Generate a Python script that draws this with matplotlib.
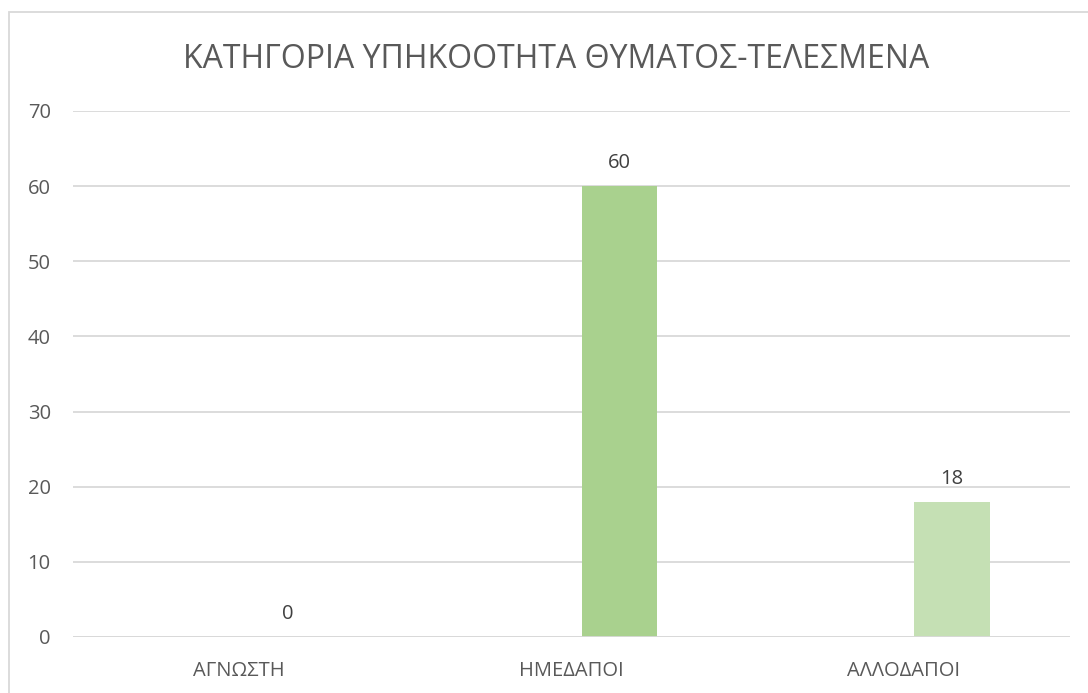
import matplotlib
matplotlib.use("Agg")
import matplotlib.pyplot as plt
from matplotlib.patches import Rectangle
import numpy as np

categories = ["ΑΓΝΩΣΤΗ", "ΗΜΕΔΑΠΟΙ", "ΑΛΛΟΔΑΠΟΙ"]
values = [0, 60, 18]
bar_colors = ["#a9d18e", "#a9d18e", "#c5e0b4"]
yticks = [0, 10, 20, 30, 40, 50, 60, 70]
title = "ΚΑΤΗΓΟΡΙΑ ΥΠΗΚΟΟΤΗΤΑ ΘΥΜΑΤΟΣ-ΤΕΛΕΣΜΕΝΑ"

plt.rcParams['font.family'] = ['Open Sans', 'DejaVu Sans']
text_color = "#595959"
grid_color = "#d9d9d9"

W, H = 1088, 693
fig = plt.figure(figsize=(W / 100, H / 100), dpi=100)
fig.patch.set_facecolor("white")

ax = fig.add_axes([73 / W, (H - 637) / H, (1070 - 73) / W, (637 - 111) / H])

x = np.arange(len(categories))
offset = 0.145
width = 0.226
ax.bar(x + offset, values, width=width, color=bar_colors, zorder=3)
for xi, v in zip(x, values):
    ax.text(xi + offset, v + 1.7, str(v), ha="center", va="bottom",
            fontsize=14.5, color="#404040")

ax.set_xlim(-0.5, len(categories) - 0.5)
ax.set_ylim(0, 70)
ax.set_yticks(yticks)
ax.set_yticklabels([str(t) for t in yticks], fontsize=14.5, color=text_color)
ax.set_xticks(x)
ax.set_xticklabels(categories, fontsize=14.5, color=text_color)
ax.tick_params(axis="both", length=0)
ax.tick_params(axis="y", pad=16)
ax.tick_params(axis="x", pad=17)
ax.grid(axis="y", color=grid_color, linewidth=1.3, zorder=0)
for s in ax.spines.values():
    s.set_visible(False)
ax.axhline(0, color=grid_color, linewidth=1.3, zorder=4)

fig.text(556 / W, (H - 59) / H, title, ha="center", va="center",
         fontsize=23, color=text_color)

# chart border in pixel coords (origin bottom-left)
border = Rectangle((9, -20), W + 20, H - 12 + 20, transform=None,
                   fill=False, edgecolor="#d9d9d9", linewidth=1.3)
fig.patches.append(border)

fig.savefig("out.png", dpi=100)
